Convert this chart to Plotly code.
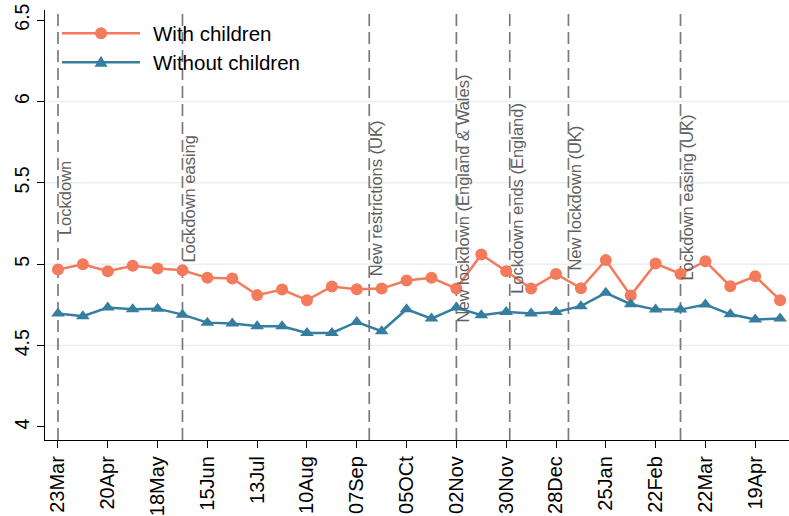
import plotly.graph_objects as go
import pandas as pd

# ---- data ----
start = pd.Timestamp("2020-03-23")
dates = [start + pd.Timedelta(weeks=2 * i) for i in range(30)]

with_children = [4.967, 5.00, 4.957, 4.99, 4.974, 4.963, 4.916, 4.912, 4.81, 4.844,
                 4.779, 4.863, 4.846, 4.85, 4.90, 4.916, 4.85, 5.06, 4.957, 4.85,
                 4.94, 4.852, 5.025, 4.807, 5.004, 4.94, 5.018, 4.865, 4.926, 4.779]
without_children = [4.697, 4.68, 4.734, 4.723, 4.727, 4.69, 4.641, 4.635, 4.619, 4.619,
                    4.578, 4.578, 4.645, 4.588, 4.723, 4.666, 4.734, 4.686, 4.707, 4.697,
                    4.707, 4.742, 4.824, 4.754, 4.721, 4.721, 4.752, 4.692, 4.66, 4.666]

tick_dates = ["2020-03-23", "2020-04-20", "2020-05-18", "2020-06-15", "2020-07-13",
              "2020-08-10", "2020-09-07", "2020-10-05", "2020-11-02", "2020-11-30",
              "2020-12-28", "2021-01-25", "2021-02-22", "2021-03-22", "2021-04-19"]
tick_labels = ["23Mar", "20Apr", "18May", "15Jun", "13Jul", "10Aug", "07Sep", "05OCt",
               "02Nov", "30Nov", "28Dec", "25Jan", "22Feb", "22Mar", "19Apr"]

y_ticks = [4, 4.5, 5, 5.5, 6, 6.5]
y_grid = [4.5, 5, 5.5, 6]

event_dates = ["2020-03-23", "2020-06-01", "2020-09-14", "2020-11-02",
               "2020-12-02", "2021-01-04", "2021-03-08"]
event_labels = ["Lockdown", "Lockdown easing", "New restrictions (UK)",
                "New lockdown (England & Wales)", "Lockdown ends (England)",
                "New lockdown (UK)", "Lockdown easing (UK)"]

series_names = ["With children", "Without children"]

# ---- style ----
ORANGE = "#F47A5C"
BLUE = "#357EA0"
FONT = "Liberation Sans, Arial, sans-serif"
Y_MIN, Y_MAX = 3.92, 6.5615
X_RANGE = ["2020-03-15 17:00", "2021-05-08"]

fig = go.Figure()
fig.add_trace(go.Scatter(x=dates, y=with_children, mode="lines+markers",
                         name=series_names[0], showlegend=False,
                         line=dict(color=ORANGE, width=2.5),
                         marker=dict(symbol="circle", size=12, color=ORANGE)))
fig.add_trace(go.Scatter(x=dates, y=without_children, mode="lines+markers",
                         name=series_names[1], showlegend=False,
                         line=dict(color=BLUE, width=2.5),
                         marker=dict(symbol="triangle-up", size=12, color=BLUE)))

shapes = []
for g in y_grid:
    shapes.append(dict(type="line", xref="paper", x0=0, x1=1, yref="y", y0=g, y1=g,
                       line=dict(color="#E8F0F2", width=1.5), layer="below"))
for d in event_dates:
    shapes.append(dict(type="line", xref="x", x0=d, x1=d, yref="y", y0=Y_MIN, y1=6.555,
                       line=dict(color="#7A7A7A", width=1.7, dash="12px,6px"), layer="below"))

annotations = []
for d, t in zip(event_dates, event_labels):
    annotations.append(dict(x=d, y=5.406, xref="x", yref="y", text=t, textangle=-90,
                            showarrow=False, xanchor="left", yanchor="middle", xshift=-4,
                            font=dict(family=FONT, size=16.5, color="#606060")))

# custom legend (long line samples like the reference)
leg_rows = [(0.9458, ORANGE, "circle", series_names[0]),
            (0.8784, BLUE, "triangle", series_names[1])]
for yy, col, sym, name in leg_rows:
    shapes.append(dict(type="line", xref="paper", yref="paper", x0=0.0229, x1=0.1277,
                       y0=yy, y1=yy, line=dict(color=col, width=2.5)))
    if sym == "circle":
        shapes.append(dict(type="circle", xref="paper", yref="paper",
                           xsizemode="pixel", ysizemode="pixel",
                           xanchor=0.0753, yanchor=yy, x0=-6, x1=6, y0=-6, y1=6,
                           fillcolor=col, line=dict(width=0)))
    else:
        shapes.append(dict(type="path", xref="paper", yref="paper",
                           xsizemode="pixel", ysizemode="pixel",
                           xanchor=0.0753, yanchor=yy,
                           path="M -6.5 -4.5 L 6.5 -4.5 L 0 6.5 Z",
                           fillcolor=col, line=dict(width=0)))
    annotations.append(dict(x=0.1425, y=yy, xref="paper", yref="paper", text=name,
                            showarrow=False, xanchor="left", yanchor="middle",
                            font=dict(family=FONT, size=20.5, color="#000000")))

fig.update_layout(
    width=789, height=516,
    margin=dict(l=45, r=0, t=10, b=76, autoexpand=False),
    paper_bgcolor="white", plot_bgcolor="white",
    showlegend=False,
    shapes=shapes, annotations=annotations,
    font=dict(family=FONT, color="black"),
)
fig.update_xaxes(type="date", range=X_RANGE, tickvals=tick_dates, ticktext=tick_labels,
                 tickangle=-90, ticks="outside", ticklen=7, tickwidth=1.3, tickcolor="black",
                 showline=True, linecolor="black", linewidth=1.3, showgrid=False, zeroline=False,
                 automargin=False, ticklabeloverflow="allow",
                 tickfont=dict(family=FONT, size=20, color="black"))
fig.update_yaxes(range=[Y_MIN, Y_MAX], tickvals=y_ticks, ticktext=[str(v) for v in y_ticks],
                 tickangle=-90, ticks="outside", ticklen=7, tickwidth=1.3, tickcolor="black",
                 showline=True, linecolor="black", linewidth=1.3, showgrid=False, zeroline=False,
                 automargin=False, ticklabeloverflow="allow",
                 tickfont=dict(family=FONT, size=19.5, color="black"))

# remove the page's default 8px body margin so the figure fills the window exactly
fig.write_html("out.html", config={"displayModeBar": False},
               post_script="document.body.style.margin='0';document.body.style.overflow='hidden';")
